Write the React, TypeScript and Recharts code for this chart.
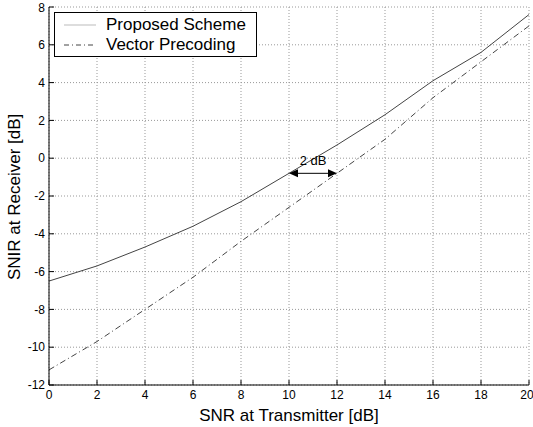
import { LineChart, Line, XAxis, YAxis, CartesianGrid, ReferenceLine } from "recharts"

const snrTx = [0, 2, 4, 6, 8, 10, 12, 14, 16, 18, 20]
const proposed = [-6.5, -5.7, -4.7, -3.6, -2.3, -0.8, 0.7, 2.3, 4.1, 5.6, 7.6]
const vectorPrecoding = [-11.2, -9.7, -8.0, -6.3, -4.4, -2.6, -0.8, 1.0, 3.2, 5.1, 7.0]
const xTicks = [0, 2, 4, 6, 8, 10, 12, 14, 16, 18, 20]
const yTicks = [-12, -10, -8, -6, -4, -2, 0, 2, 4, 6, 8]
const gapLevel = -0.8
const gapFrom = 10
const gapTo = 12

const data = snrTx.map((x, i) => ({ x, proposed: proposed[i], vector: vectorPrecoding[i] }))

const font = "'Liberation Sans', Arial, sans-serif"

const ArrowLine = (props: any) => {
  const { x1, y1, x2, y2 } = props
  const h = 9
  const w = 4
  return (
    <g>
      <line x1={x1 + h} y1={y1} x2={x2 - h} y2={y2} stroke="#000" strokeWidth={1} />
      <polygon points={`${x1},${y1} ${x1 + h},${y1 - w} ${x1 + h},${y1 + w}`} fill="#000" />
      <polygon points={`${x2},${y2} ${x2 - h},${y2 - w} ${x2 - h},${y2 + w}`} fill="#000" />
      <text x={(x1 + x2) / 2} y={y1 - 8} textAnchor="middle" fontSize={13} fontFamily={font} fill="#000">
        2 dB
      </text>
    </g>
  )
}

const LegendBox = () => (
  <div
    style={{
      position: "absolute",
      left: 54,
      top: 12,
      border: "1px solid #000",
      background: "#fff",
      width: 201,
      padding: "2px 0 1px 0",
      fontFamily: font,
      fontSize: 17,
      lineHeight: "20px",
      whiteSpace: "nowrap",
    }}
  >
    <div style={{ display: "flex", alignItems: "center" }}>
      <svg width={51} height={20}>
        <line x1={9} y1={10} x2={41} y2={10} stroke="#bbb" strokeWidth={1} />
      </svg>
      <span>Proposed Scheme</span>
    </div>
    <div style={{ display: "flex", alignItems: "center" }}>
      <svg width={51} height={20}>
        <line x1={9} y1={10} x2={41} y2={10} stroke="#444" strokeWidth={1} strokeDasharray="5 3 1 3" />
      </svg>
      <span>Vector Precoding</span>
    </div>
  </div>
)

export default function App() {
  return (
    <div style={{ position: "absolute", left: 0, top: 0, width: 533, height: 427, background: "#fff" }}>
      <LineChart width={533} height={427} data={data} margin={{ top: 7, right: 4, bottom: 0, left: 0 }}>
        <CartesianGrid stroke="#999" strokeDasharray="1 2" />
        <XAxis
          dataKey="x"
          type="number"
          domain={[0, 20]}
          ticks={xTicks}
          stroke="#000"
          tickSize={-5}
          tickMargin={10}
          tick={{ fill: "#000", fontSize: 12, fontFamily: font }}
          height={42}
          label={{ value: "SNR at Transmitter [dB]", position: "insideBottom", offset: 6, fill: "#000", fontSize: 17, fontFamily: font }}
        />
        <XAxis xAxisId="top" dataKey="x" type="number" domain={[0, 20]} ticks={xTicks} orientation="top" height={0} stroke="#000" tickSize={-5} tickFormatter={() => ""} />
        <YAxis
          type="number"
          domain={[-12, 8]}
          ticks={yTicks}
          stroke="#000"
          tickSize={-5}
          tickMargin={9}
          width={49}
          tick={{ fill: "#000", fontSize: 12, fontFamily: font }}
          label={{ value: "SNIR at Receiver [dB]", angle: -90, position: "insideLeft", offset: 14, dy: 84, fill: "#000", fontSize: 17, fontFamily: font }}
        />
        <YAxis yAxisId="right" type="number" domain={[-12, 8]} ticks={yTicks} orientation="right" width={0} stroke="#000" tickSize={-5} tickFormatter={() => ""} />
        <Line dataKey="proposed" name="Proposed Scheme" stroke="#444" strokeWidth={1} dot={false} isAnimationActive={false} />
        <Line dataKey="vector" name="Vector Precoding" stroke="#444" strokeWidth={1} strokeDasharray="6 3 1 3" dot={false} isAnimationActive={false} />
        <ReferenceLine
          segment={[
            { x: gapFrom, y: gapLevel },
            { x: gapTo, y: gapLevel },
          ]}
          shape={<ArrowLine />}
        />
      </LineChart>
      <LegendBox />
    </div>
  )
}
